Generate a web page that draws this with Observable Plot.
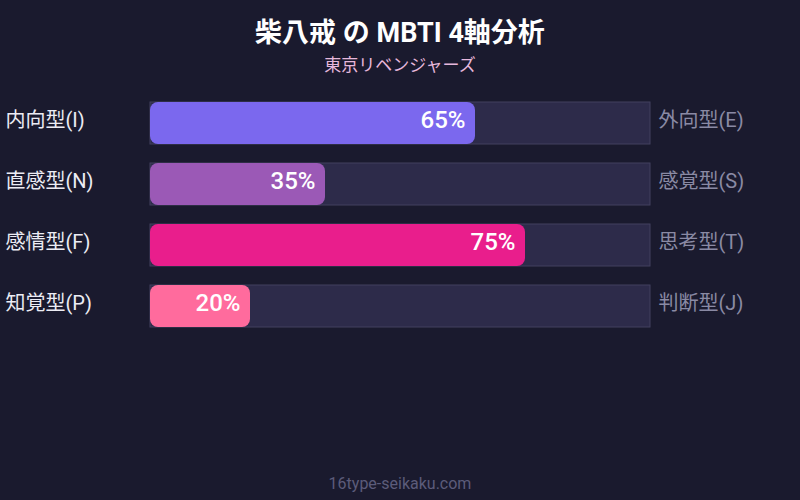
<!DOCTYPE html>
<html><head><meta charset="utf-8">
<script src="https://cdn.jsdelivr.net/npm/d3@7"></script>
<script src="https://cdn.jsdelivr.net/npm/@observablehq/plot@0.6"></script>
<style>
html,body{margin:0;padding:0;background:#1a1a2e;}
#wrap{position:relative;width:800px;height:500px;background:#1a1a2e;overflow:hidden;font-family:Roboto,"Noto Sans CJK JP",sans-serif;}
.t{position:absolute;left:0;width:800px;text-align:center;line-height:1;transform:translateY(-50%);}
#title{top:33px;font-size:27px;font-weight:700;color:#ffffff;}
#sub{top:65px;font-size:17px;color:#e6b8dc;}
#foot{top:484px;font-size:16px;color:#5c5c7a;}
#chart{position:absolute;left:0;top:84px;}
</style></head>
<body>
<div id="wrap">
  <div class="t" id="title">柴八戒 の MBTI 4軸分析</div>
  <div class="t" id="sub">東京リベンジャーズ</div>
  <div id="chart"></div>
  <div class="t" id="foot">16type-seikaku.com</div>
</div>
<script>
const leftLabels = ["内向型(I)", "直感型(N)", "感情型(F)", "知覚型(P)"];
const rightLabels = ["外向型(E)", "感覚型(S)", "思考型(T)", "判断型(J)"];
const values = [65, 35, 75, 20];
const barColors = ["#7b68ee", "#9b59b6", "#e91e8c", "#ff6b9d"];
const scaleMax = 100;

const data = leftLabels.map((l, i) => ({left: l, right: rightLabels[i], value: values[i], color: barColors[i]}));

const chart = Plot.plot({
  width: 800,
  height: 380,
  margin: 0,
  style: {background: "transparent", fontFamily: "Roboto, 'Noto Sans CJK JP', sans-serif"},
  x: {domain: [0, scaleMax], range: [150, 650], axis: null},
  y: {domain: leftLabels, range: [16, 245], paddingInner: 0.306, paddingOuter: 0, axis: null},
  color: {type: "identity"},
  marks: [
    Plot.barX(data, {x1: d => 0, x2: d => scaleMax, y: "left", fill: "#2d2b4a", stroke: "#42405f", strokeWidth: 1}),
    Plot.barX(data, {x1: d => 0, x2: "value", y: "left", fill: "color", rx: 8}),
    Plot.text(data, {x: "value", y: "left", text: d => d.value + "%", dx: -10, dy: -3, textAnchor: "end", fill: "#ffffff", fontSize: 24, fontWeight: 500}),
    Plot.text(data, {y: "left", text: "left", frameAnchor: "left", dx: 5, dy: -3, textAnchor: "start", fill: "#ececf4", fontSize: 20}),
    Plot.text(data, {x: d => scaleMax, y: "left", text: "right", dx: 8, dy: -3, textAnchor: "start", fill: "#8a8aa4", fontSize: 20})
  ]
});
document.getElementById("chart").appendChild(chart);
</script>
</body></html>
